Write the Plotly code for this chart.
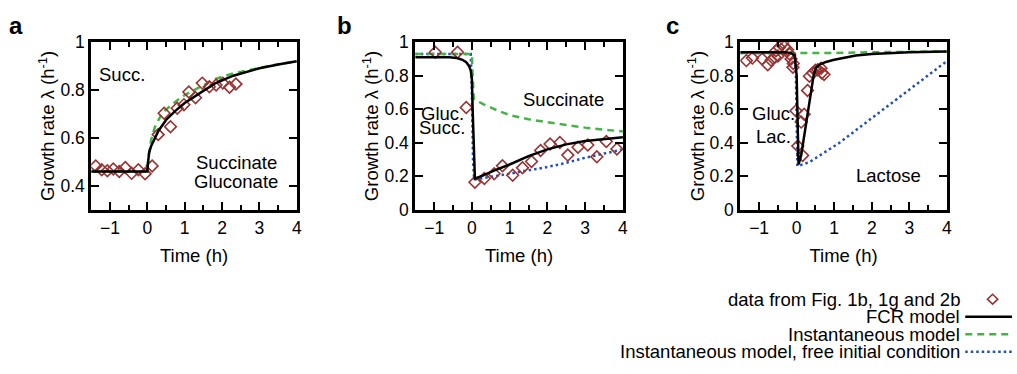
import plotly.graph_objects as go

# ---------------- data ----------------
# Panel a (Succinate -> Succinate + Gluconate)
a_data_t = [-1.38, -1.22, -1.07, -0.91, -0.75, -0.59, -0.42, -0.24, -0.06, 0.13,
            0.29, 0.45, 0.62, 0.80, 0.98, 1.11, 1.29, 1.47, 1.66, 1.84, 2.02, 2.20, 2.37]
a_data_y = [0.483, 0.467, 0.463, 0.470, 0.460, 0.476, 0.452, 0.467, 0.450, 0.483,
            0.614, 0.703, 0.647, 0.724, 0.739, 0.792, 0.768, 0.829, 0.814, 0.821, 0.829, 0.812, 0.825]
a_fcr_t = [-1.5, 0.0, 0.02, 0.05, 0.1, 0.18, 0.3, 0.5, 0.75, 1.0, 1.4, 1.8, 2.3, 3.0, 3.5, 4.0]
a_fcr_y = [0.46, 0.46, 0.50, 0.54, 0.565, 0.59, 0.63, 0.675, 0.713, 0.746, 0.788, 0.827, 0.86, 0.891, 0.907, 0.92]
a_inst_t = [-1.5, 0.0, 0.03, 0.06, 0.1, 0.2, 0.4, 0.76, 1.0, 1.4, 1.8, 2.3, 3.0, 3.5, 4.0]
a_inst_y = [0.46, 0.46, 0.52, 0.555, 0.59, 0.645, 0.705, 0.752, 0.779, 0.812, 0.845, 0.87, 0.893, 0.908, 0.92]

# Panel b (Glucose + Succinate -> Succinate)
b_data_t = [-0.97, -0.38, -0.15, 0.08, 0.33, 0.59, 0.81, 1.08, 1.34, 1.58, 1.82,
            2.07, 2.33, 2.54, 2.81, 3.07, 3.31, 3.56, 3.84]
b_data_y = [0.94, 0.94, 0.61, 0.164, 0.186, 0.215, 0.262, 0.206, 0.25, 0.288, 0.354,
            0.392, 0.401, 0.326, 0.373, 0.386, 0.316, 0.407, 0.363]
b_fcr_t = [-1.5, -0.6, -0.4, -0.25, -0.15, -0.08, -0.03, 0.0, 0.02, 0.05, 0.08,
           0.3, 0.6, 1.0, 1.5, 2.0, 2.5, 3.0, 3.5, 4.0]
b_fcr_y = [0.91, 0.91, 0.905, 0.895, 0.88, 0.86, 0.83, 0.78, 0.6, 0.3, 0.185,
           0.205, 0.235, 0.27, 0.32, 0.36, 0.39, 0.41, 0.423, 0.433]
b_inst_t = [-1.5, 0.0, 0.02, 0.05, 0.3, 0.7, 1.0, 1.5, 2.0, 2.5, 3.0, 3.5, 4.0]
b_inst_y = [0.93, 0.93, 0.80, 0.66, 0.63, 0.59, 0.565, 0.54, 0.522, 0.505, 0.49, 0.478, 0.467]
b_free_t = [-1.5, -0.03, 0.0, 0.03, 0.06, 0.5, 1.0, 1.5, 2.0, 2.5, 3.0, 3.5, 4.0]
b_free_y = [0.93, 0.93, 0.70, 0.30, 0.18, 0.195, 0.215, 0.235, 0.255, 0.28, 0.31, 0.335, 0.36]

# Panel c (Glucose + Lactose -> Lactose)
c_data_t = [-1.34, -1.18, -0.92, -0.77, -0.68, -0.58, -0.55, -0.50, -0.46, -0.37, -0.33,
            -0.24, -0.19, -0.15, -0.09, -0.10, -0.02, 0.03, 0.12, 0.16, 0.20, 0.29,
            0.34, 0.43, 0.50, 0.56, 0.65, 0.67, 0.73]
c_data_y = [0.89, 0.905, 0.90, 0.865, 0.892, 0.91, 0.949, 0.917, 0.968, 0.996, 0.973,
            0.955, 0.93, 0.90, 0.873, 0.85, 0.59, 0.38, 0.523, 0.324, 0.57, 0.712,
            0.797, 0.816, 0.833, 0.835, 0.845, 0.816, 0.807]
c_fcr_t = [-1.5, -0.3, -0.15, -0.05, 0.0, 0.03, 0.05, 0.12, 0.25, 0.38, 0.45, 0.51,
           0.6, 0.78, 1.0, 1.58, 2.0, 3.0, 4.0]
c_fcr_y = [0.94, 0.94, 0.935, 0.92, 0.80, 0.40, 0.27, 0.324, 0.52, 0.71, 0.80, 0.845,
           0.865, 0.882, 0.895, 0.92, 0.93, 0.94, 0.945]
c_inst_t = [-1.5, 0.0, 1.0, 2.0, 3.0, 4.0]
c_inst_y = [0.935, 0.935, 0.935, 0.94, 0.943, 0.945]
c_free_t = [-1.5, -0.05, -0.02, 0.0, 0.02, 0.34, 1.13, 1.57, 2.02, 2.46, 2.9, 3.34, 3.96]
c_free_y = [0.935, 0.935, 0.80, 0.50, 0.26, 0.284, 0.398, 0.473, 0.55, 0.625, 0.70, 0.777, 0.88]

panel_letters = ["a", "b", "c"]
legend_labels = ["data from Fig. 1b, 1g and 2b", "FCR model", "Instantaneous model",
                 "Instantaneous model, free initial condition"]

# ---------------- styles ----------------
W, H = 1017, 374
FONT = "Liberation Sans, Arial, Helvetica, sans-serif"
FS = 18.5      # labels / titles
FS_TICK = 17.5
C_DATA = "#993333"
C_FCR = "black"
C_INST = "#44b544"
C_FREE = "#2250b0"
INST_DASH = "7px,5px"
FREE_DASH = "2.5px,3px"

fig = go.Figure()

panels = [
    dict(data=(a_data_t, a_data_y), fcr=(a_fcr_t, a_fcr_y), inst=(a_inst_t, a_inst_y), free=None),
    dict(data=(b_data_t, b_data_y), fcr=(b_fcr_t, b_fcr_y), inst=(b_inst_t, b_inst_y), free=(b_free_t, b_free_y)),
    dict(data=(c_data_t, c_data_y), fcr=(c_fcr_t, c_fcr_y), inst=(c_inst_t, c_inst_y), free=(c_free_t, c_free_y)),
]

for i, p in enumerate(panels):
    xa = "x" if i == 0 else f"x{i+1}"
    ya = "y" if i == 0 else f"y{i+1}"
    if p["free"] is not None:
        fig.add_trace(go.Scatter(x=p["free"][0], y=p["free"][1], xaxis=xa, yaxis=ya, mode="lines",
                                 line=dict(color=C_FREE, width=2.5, dash=FREE_DASH), showlegend=False))
    fig.add_trace(go.Scatter(x=p["inst"][0], y=p["inst"][1], xaxis=xa, yaxis=ya, mode="lines",
                             line=dict(color=C_INST, width=2.5, dash=INST_DASH), showlegend=False))
    fig.add_trace(go.Scatter(x=p["data"][0], y=p["data"][1], xaxis=xa, yaxis=ya, mode="markers",
                             marker=dict(symbol="diamond-open", size=9, color=C_DATA,
                                         line=dict(width=1.6, color=C_DATA)), showlegend=False))
    fig.add_trace(go.Scatter(x=p["fcr"][0], y=p["fcr"][1], xaxis=xa, yaxis=ya, mode="lines",
                             line=dict(color=C_FCR, width=2.5), showlegend=False))

# axes geometry (pixels)
x_px = [(91.7, 298.3), (417.3, 626.0), (744.0, 951.5)]
y_top, y_bot = 34, 211
yranges = [[0.3, 1.0], [0.0, 1.0], [0.0, 1.0]]

common_ax = dict(showline=True, linecolor="black", linewidth=3, mirror="ticks",
                 ticks="inside", ticklen=8, tickwidth=2, tickcolor="black",
                 showgrid=False, zeroline=False,
                 tickfont=dict(family=FONT, size=FS_TICK, color="black"))

for i in range(3):
    sx = "" if i == 0 else str(i + 1)
    fig.layout[f"xaxis{sx}"] = dict(
        common_ax, domain=[x_px[i][0] / W, x_px[i][1] / W], range=[-1.5, 4],
        anchor=f"y{sx}", tick0=0, dtick=1,
        minor=dict(ticks="inside", dtick=0.5, tick0=0, ticklen=5, tickwidth=2, tickcolor="black"),
        title=dict(text="Time (h)", font=dict(family=FONT, size=FS, color="black"), standoff=13),
    )
    fig.layout[f"yaxis{sx}"] = dict(
        common_ax, domain=[1 - y_bot / H, 1 - y_top / H], range=yranges[i],
        anchor=f"x{sx}", tick0=0, dtick=0.2,
        title=dict(text="Growth rate λ (h<sup>-1</sup>)", font=dict(family=FONT, size=FS, color="black"),
                   standoff=1),
    )

# in-panel labels
def lab(xref, yref, x, y, text):
    fig.add_annotation(xref=xref, yref=yref, x=x, y=y, text=text, showarrow=False,
                       xanchor="center", yanchor="middle", borderpad=0, yshift=2,
                       font=dict(family=FONT, size=FS, color="black"))

lab("x", "y", -0.69, 0.856, "Succ.")
lab("x", "y", 2.38, 0.49, "Succinate")
lab("x", "y", 2.38, 0.41, "Gluconate")
lab("x2", "y2", 2.42, 0.645, "Succinate")
lab("x2", "y2", -0.78, 0.563, "Gluc.")
lab("x2", "y2", -0.78, 0.478, "Succ.")
lab("x3", "y3", -0.62, 0.56, "Gluc.")
lab("x3", "y3", -0.62, 0.428, "Lac.")
lab("x3", "y3", 2.44, 0.193, "Lactose")

# panel letters
for letter, px in zip(panel_letters, [8, 338, 668]):
    fig.add_annotation(xref="paper", yref="paper", x=px / W, y=1 - 16 / H, text=f"<b>{letter}</b>",
                       showarrow=False, xanchor="left", yanchor="middle", borderpad=0,
                       font=dict(family=FONT, size=24, color="black"))

# legend (manual: text right-aligned, key to the right)
rows_y = [305.5, 324, 342.5, 361]
text_right = 966
for lbl, ry in zip(legend_labels, rows_y):
    fig.add_annotation(xref="paper", yref="paper", x=text_right / W, y=1 - ry / H, text=lbl,
                       showarrow=False, xanchor="right", yanchor="middle", borderpad=0,
                       font=dict(family=FONT, size=FS, color="black"))
# diamond key
cx, cy, r = 997.5, rows_y[0], 5.2
fig.add_shape(type="path", xref="paper", yref="paper",
              path=(f"M {cx / W} {1 - (cy - r) / H} L {(cx + r) / W} {1 - cy / H} "
                    f"L {cx / W} {1 - (cy + r) / H} L {(cx - r) / W} {1 - cy / H} Z"),
              line=dict(color=C_DATA, width=1.6))
key_styles = [dict(color=C_FCR, width=2.5), dict(color=C_INST, width=2.5, dash=INST_DASH),
              dict(color=C_FREE, width=2.5, dash=FREE_DASH)]
for st, ry in zip(key_styles, rows_y[1:]):
    fig.add_shape(type="line", xref="paper", yref="paper", x0=970 / W, x1=1.0,
                  y0=1 - ry / H, y1=1 - ry / H, line=st)

fig.update_layout(width=W, height=H, margin=dict(l=0, r=0, t=0, b=0),
                  plot_bgcolor="white", paper_bgcolor="white", showlegend=False,
                  font=dict(family=FONT, size=FS, color="black"))

fig.write_html("out.html")
